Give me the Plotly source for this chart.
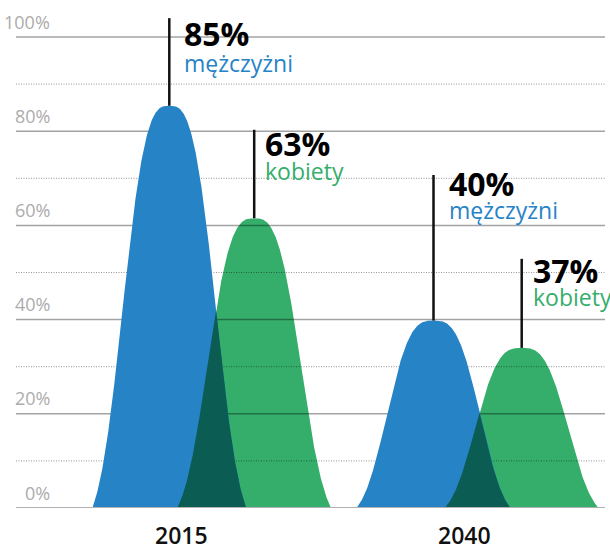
import numpy as np
import plotly.graph_objects as go

# ---------------- data ----------------
years = ["2015", "2040"]
men_label_pct = [85, 40]          # printed values
women_label_pct = [63, 37]
men_peak = [85.4, 39.8]           # drawn peak heights (%)
women_peak = [61.5, 34.0]
men_word = "mężczyżni"
women_word = "kobiety"
major_ticks = [0, 20, 40, 60, 80, 100]
minor_ticks = [10, 30, 50, 70, 90]

# ---------------- layout constants ----------------
W, H = 610, 544
X0, X1 = 16, 605                  # x axis expressed in pixel-like units
Y_TOP = 508 / 4.71                # axis top (px 0) in % so that 100% sits at px 37
men_x = [169.3, 433.5]
women_x = [254.2, 521.7]
HALF_W = 77.0
year_x = [181, 464.3]
men_line_top = [104.0, 70.7]
women_line_top = [80.3, 52.9]
men_lbl_y = [(100.7, 94.4), (68.9, 63.2)]
women_lbl_y = [(77.4, 71.6), (50.5, 44.9)]
men_lbl_x = [181.5, 446.5]
women_lbl_x = [263.0, 530.5]

BLUE = "#2683c6"
GREEN = "#35ae6b"
DARK = "#0b5c52"
FONT = "Open Sans"


def profile(u, p=3.0, a=0.7):
    u = np.abs(u)
    b = np.exp(-(1 / a) ** p)
    v = (np.exp(-(u / a) ** p) - b) / (1 - b)
    return np.where(u <= 1, v, 0.0)


def bell(xc, h, xs):
    return h * profile((xs - xc) / HALF_W)


fig = go.Figure()
curves = []
for i in range(len(years)):
    xs = np.linspace(men_x[i] - HALF_W, women_x[i] + HALF_W, 900)
    bm = bell(men_x[i], men_peak[i], xs)
    bw = bell(women_x[i], women_peak[i], xs)
    curves.append((xs, bm, bw))


def poly(xs, ys):
    m = ys > 0
    xx = np.concatenate([[xs[m][0]], xs[m], [xs[m][-1]]])
    yy = np.concatenate([[0], ys[m], [0]])
    return xx, yy


# green curves
for xs, bm, bw in curves:
    xx, yy = poly(xs, bw)
    fig.add_trace(go.Scatter(x=xx, y=yy, fill="toself", fillcolor=GREEN,
                             mode="lines", line=dict(width=0), hoverinfo="skip"))

# gridlines (above green, below blue)
for v in sorted(major_ticks + minor_ticks):
    if v == 0:
        continue
    if v in major_ticks:
        ln = dict(color="rgba(0,0,0,0.36)", width=1.5)
    else:
        ln = dict(color="rgba(0,0,0,0.42)", width=1, dash="1px,1.5px")
    fig.add_trace(go.Scatter(x=[X0, X1], y=[v, v], mode="lines", line=ln,
                             hoverinfo="skip"))

# blue curves
for xs, bm, bw in curves:
    xx, yy = poly(xs, bm)
    fig.add_trace(go.Scatter(x=xx, y=yy, fill="toself", fillcolor=BLUE,
                             mode="lines", line=dict(width=0), hoverinfo="skip"))

# overlap
for xs, bm, bw in curves:
    xx, yy = poly(xs, np.minimum(bm, bw))
    fig.add_trace(go.Scatter(x=xx, y=yy, fill="toself", fillcolor=DARK,
                             mode="lines", line=dict(width=0), hoverinfo="skip"))

# baseline
fig.add_trace(go.Scatter(x=[X0, X1], y=[0, 0], mode="lines",
                         line=dict(color="#b2b2b2", width=2), hoverinfo="skip"))

# leader lines
for i in range(len(years)):
    fig.add_trace(go.Scatter(x=[men_x[i], men_x[i]], y=[men_peak[i], men_line_top[i]],
                             mode="lines", line=dict(color="#111", width=2.5), hoverinfo="skip"))
    fig.add_trace(go.Scatter(x=[women_x[i], women_x[i]], y=[women_peak[i], women_line_top[i]],
                             mode="lines", line=dict(color="#111", width=2.5), hoverinfo="skip"))

ann = []
# y tick labels
for v in major_ticks:
    ann.append(dict(x=52, y=v, xref="x", yref="y", text=f"{v}%", showarrow=False,
                    xanchor="right", yanchor="middle", yshift=15.5,
                    font=dict(family=FONT, size=18, color="#acacac")))
# value labels
for i in range(len(years)):
    for xl, (yp, yw), val, word, col in [
        (men_lbl_x[i], men_lbl_y[i], men_label_pct[i], men_word, BLUE),
        (women_lbl_x[i], women_lbl_y[i], women_label_pct[i], women_word, GREEN),
    ]:
        ann.append(dict(x=xl, y=yp, xref="x", yref="y", text=f"<b>{val}%</b>",
                        showarrow=False, xanchor="left", yanchor="middle",
                        font=dict(family=FONT, size=32, color="#000")))
        ann.append(dict(x=xl, y=yw, xref="x", yref="y", text=word,
                        showarrow=False, xanchor="left", yanchor="middle",
                        font=dict(family=FONT, size=23, color=col)))
# year labels
for i, yr in enumerate(years):
    ann.append(dict(x=year_x[i], y=0, xref="x", yref="paper", text=yr,
                    showarrow=False, xanchor="center", yanchor="middle", yshift=-26.5,
                    font=dict(family=FONT, size=23, color="#111", weight=600)))

fig.update_layout(
    width=W, height=H,
    margin=dict(l=16, r=5, t=0, b=36, pad=0),
    paper_bgcolor="white", plot_bgcolor="white",
    showlegend=False,
    xaxis=dict(range=[X0, X1], visible=False, fixedrange=True),
    yaxis=dict(range=[0, Y_TOP], visible=False, fixedrange=True),
    annotations=ann,
    hovermode=False,
)
fig.write_html("out.html", config={"displayModeBar": False},
               post_script="document.body.style.margin='0';")
